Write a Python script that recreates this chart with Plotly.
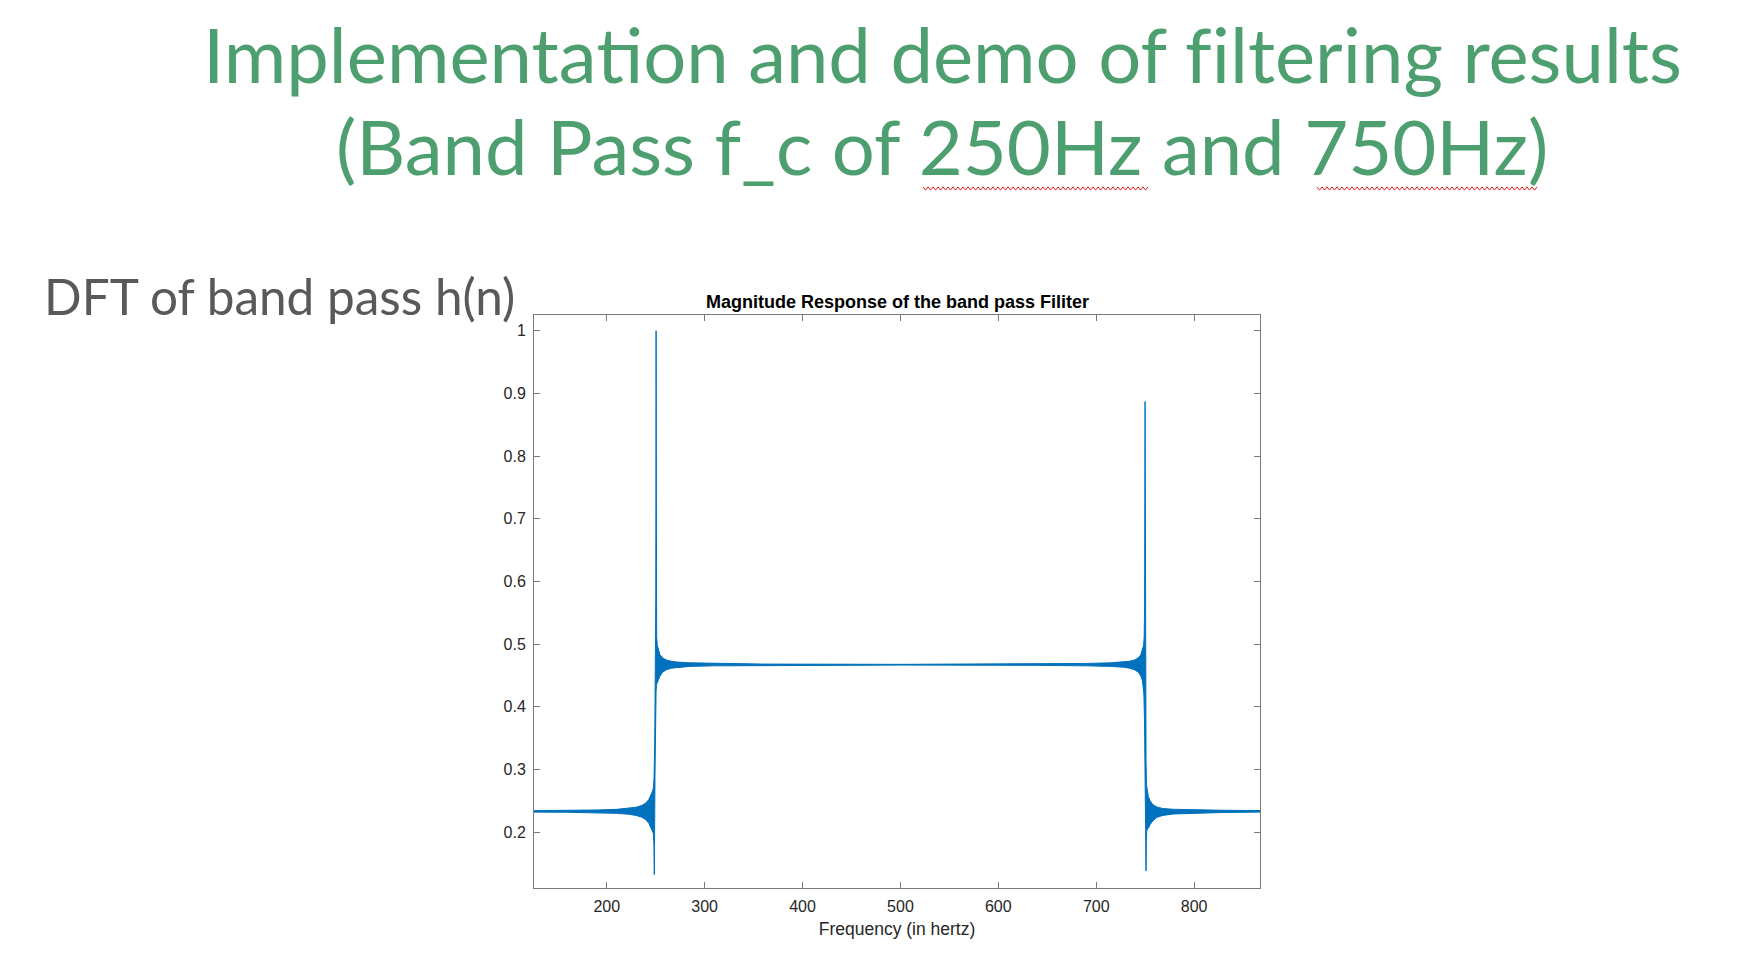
import plotly.graph_objects as go

# ---------------- data ----------------
# Envelope of the densely oscillating magnitude response |H(f)|
upper_freq = [125.7, 160, 190, 210, 222, 230, 236, 240, 243, 245, 246.5, 247.6,
              248.3, 249.0, 249.6, 250.1, 250.4, 250.7, 251.0, 251.6, 252.7, 254.4,
              257, 261, 266, 272, 285, 310, 360, 500, 640, 690, 715, 728, 734, 739,
              743, 745.6, 747.3, 748.4, 749.0, 749.4, 749.9, 750.2, 750.6, 750.9,
              751.4, 752.2, 753.2, 755, 758, 762, 768, 779, 800, 830, 867.3]
upper_mag = [0.2342, 0.2345, 0.2352, 0.2362, 0.2375, 0.2395, 0.2425, 0.2465, 0.252,
             0.258, 0.264, 0.270, 0.285, 0.34, 0.42, 0.57, 1.000, 0.57, 0.512, 0.498,
             0.491, 0.483, 0.478, 0.4745, 0.4725, 0.4712, 0.4700, 0.4690, 0.4680,
             0.4676, 0.4680, 0.4690, 0.4700, 0.4712, 0.4725, 0.4745, 0.478, 0.483,
             0.491, 0.498, 0.512, 0.56, 0.887, 0.52, 0.40, 0.31, 0.275, 0.265, 0.257,
             0.250, 0.2435, 0.240, 0.2375, 0.2363, 0.2352, 0.2347, 0.2343]

lower_freq = [125.7, 160, 190, 210, 222, 230, 236, 240, 243, 245, 246.5, 247.6,
              248.2, 248.6, 248.9, 249.3, 249.8, 250.4, 251.0, 251.6, 252.7, 254.4,
              257, 261, 266, 272, 285, 310, 360, 500, 640, 690, 715, 728, 734, 739,
              743, 745.6, 747.3, 748.1, 748.7, 749.3, 749.9, 750.4, 750.9, 751.2,
              751.6, 752.2, 753.2, 755, 758, 762, 768, 779, 800, 830, 867.3]
lower_mag = [0.2318, 0.2315, 0.2308, 0.2298, 0.2285, 0.2265, 0.2235, 0.2195, 0.214,
             0.208, 0.202, 0.198, 0.18, 0.132, 0.20, 0.29, 0.38, 0.425, 0.436, 0.437,
             0.441, 0.449, 0.455, 0.459, 0.4615, 0.463, 0.4643, 0.4652, 0.4660,
             0.4664, 0.4660, 0.4652, 0.4643, 0.463, 0.4615, 0.459, 0.455, 0.449,
             0.441, 0.434, 0.42, 0.38, 0.32, 0.24, 0.138, 0.185, 0.202, 0.205, 0.206,
             0.212, 0.218, 0.2235, 0.2265, 0.2288, 0.2302, 0.2312, 0.2318]

x_ticks = [200, 300, 400, 500, 600, 700, 800]
x_tick_labels = ["200", "300", "400", "500", "600", "700", "800"]
y_ticks = [0.2, 0.3, 0.4, 0.5, 0.6, 0.7, 0.8, 0.9, 1.0]
y_tick_labels = ["0.2", "0.3", "0.4", "0.5", "0.6", "0.7", "0.8", "0.9", "1"]
x_range = [125.7, 867.3]
y_range = [0.1107, 1.025]

ZWNJ = "\u200c"  # prevents typographic ligatures (ti, fi) that the original font doesn't use
slide_title_1 = "Implementa" + ZWNJ + "tion and demo of f" + ZWNJ + "iltering results"
slide_title_2 = "(Band Pass f_c of 250Hz and 750Hz)"
side_label = "DFT of band pass h(n)"
chart_title = "Magnitude Response of the band pass Filiter"
x_label = "Frequency (in hertz)"

# ---------------- layout geometry ----------------
OFF = 8                      # default body margin of the written html page
W, H = 1758 - 2 * OFF, 978 - 2 * OFF
# plot area in page pixels
PL, PR, PT, PB = 534, 1260, 315, 888
BLUE = "#0072BD"
GREEN = "#4e9f6f"
AXIS = "#7a7a7a"
CHART_FONT = "Liberation Sans, Arial, Helvetica, sans-serif"
SLIDE_FONT = "Lato, Open Sans, sans-serif"


def px_x(x):
    return (x - PL) / (PR - PL)


def px_y(y):
    return (PB - y) / (PB - PT)


poly_x = upper_freq + lower_freq[::-1]
poly_y = upper_mag + lower_mag[::-1]

fig = go.Figure()
fig.add_trace(go.Scatter(
    x=poly_x, y=poly_y, mode="lines", fill="toself", fillcolor=BLUE,
    line=dict(color=BLUE, width=1), hoverinfo="skip", showlegend=False,
))

axis_common = dict(
    ticks="inside", ticklen=6, tickwidth=1, tickcolor=AXIS,
    showline=True, linecolor=AXIS, linewidth=1, mirror="ticks",
    showgrid=False, zeroline=False,
    tickfont=dict(family=CHART_FONT, size=16, color="#262626"),
)

fig.update_layout(
    width=W, height=H,
    margin=dict(l=PL - OFF, r=(W + OFF) - PR, t=PT - OFF, b=(H + OFF) - PB, pad=0),
    paper_bgcolor="white", plot_bgcolor="white",
    xaxis=dict(range=x_range, tickmode="array", tickvals=x_ticks,
               ticktext=x_tick_labels, ticklabelstandoff=4,
               title=dict(text=x_label, standoff=8,
                          font=dict(family=CHART_FONT, size=17.5, color="#262626")),
               **axis_common),
    yaxis=dict(range=y_range, tickmode="array", tickvals=y_ticks,
               ticktext=y_tick_labels, ticklabelstandoff=4, **axis_common),
    hovermode=False,
)

annotations = [
    dict(text=slide_title_1, x=px_x(942), y=px_y(54), xref="paper", yref="paper",
         xanchor="center", yanchor="middle", showarrow=False,
         font=dict(family=SLIDE_FONT, size=76, color=GREEN)),
    dict(text=slide_title_2, x=px_x(942), y=px_y(146), xref="paper", yref="paper",
         xanchor="center", yanchor="middle", showarrow=False,
         font=dict(family=SLIDE_FONT, size=76, color=GREEN)),
    dict(text=side_label, x=px_x(42), y=px_y(296), xref="paper", yref="paper",
         xanchor="left", yanchor="middle", showarrow=False,
         font=dict(family=SLIDE_FONT, size=49.5, color="#595959")),
    dict(text="<b>" + chart_title + "</b>", x=0.5, y=px_y(302), xref="paper",
         yref="paper", xanchor="center", yanchor="middle", showarrow=False,
         font=dict(family=CHART_FONT, size=18, color="#000000")),
]
fig.update_layout(annotations=annotations)


def squiggle(x0, x1, y, step=2.5, amp=1.6):
    pts = []
    x = x0
    k = 0
    while x <= x1:
        yy = y + (amp if k % 2 else -amp)
        pts.append((px_x(x), px_y(yy)))
        x += step
        k += 1
    return "M " + " L ".join(f"{a:.5f},{b:.5f}" for a, b in pts)


shapes = []
for (sx0, sx1) in [(923, 1149), (1317, 1539)]:
    shapes.append(dict(type="path", path=squiggle(sx0, sx1, 188.5),
                       xref="paper", yref="paper",
                       line=dict(color="#e02020", width=1)))
fig.update_layout(shapes=shapes)

fig.write_html("out.html", config={"displayModeBar": False})
